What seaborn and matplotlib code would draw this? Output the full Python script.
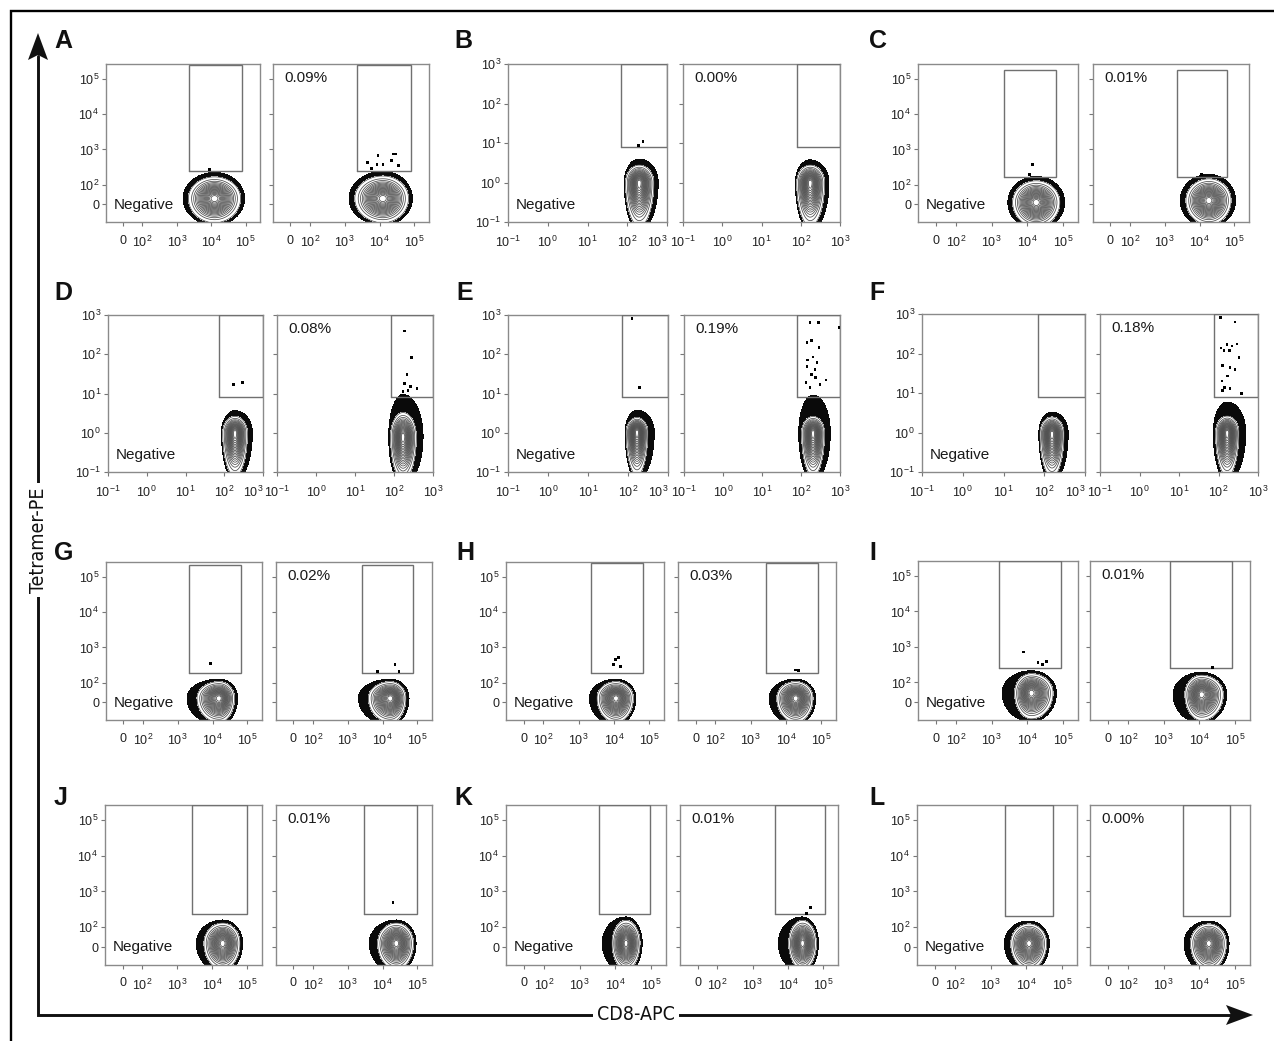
import numpy as np
import matplotlib
matplotlib.use("Agg")
import matplotlib.pyplot as plt
import seaborn as sns
from matplotlib.patches import Polygon

sns.set_style("white")
plt.rcParams["font.family"] = ["Liberation Sans", "DejaVu Sans"]
plt.rcParams["mathtext.fontset"] = "custom"
plt.rcParams["mathtext.rm"] = "Liberation Sans"
plt.rcParams["mathtext.it"] = "Liberation Sans:italic"
plt.rcParams["mathtext.bf"] = "Liberation Sans:bold"

# ---------------------------------------------------------------- data
panel_letters = list("ABCDEFGHIJKL")
percent_labels = ["0.09%", "0.00%", "0.01%", "0.08%", "0.19%", "0.18%",
                  "0.02%", "0.03%", "0.01%", "0.01%", "0.01%", "0.00%"]
axis_kind = ["biex", "log", "biex", "log", "log", "log",
             "biex", "biex", "biex", "biex", "biex", "biex"]

# tetramer+ gate per panel: CD8 low, CD8 high, tetramer low, tetramer high
gates_neg = [(2200, 80000, 240, 250000), (70, 1000, 8, 1000), (2300, 62000, 170, 180000),
             (72, 1000, 8, 1000), (71, 1000, 8, 1000), (71, 1000, 8, 1000),
             (2100, 67000, 190, 220000), (2200, 65000, 190, 240000), (1600, 85000, 260, 262144),
             (2700, 100000, 230, 262144), (3500, 95000, 230, 262144), (2500, 57000, 200, 262144)]
gates_pos = [(2200, 80000, 250, 250000), (80, 1000, 8, 1000), (2250, 63000, 170, 180000),
             (83, 1000, 8, 1000), (80, 1000, 8, 1000), (75, 1000, 8, 1000),
             (2500, 75000, 190, 220000), (2800, 80000, 190, 240000), (1500, 80000, 260, 262144),
             (3000, 100000, 230, 262144), (4400, 110000, 230, 262144), (3500, 74000, 200, 262144)]

# bulk CD8+ population: CD8 centre, tetramer centre,
# spread in decades (left, right, down, up), outlier rim (left, right, down, up)
pop_neg = [(12500, 30, .31, .31, .28, .25, 1.20, 1.15, 1.1, 1.20),
           (200, 1.0, .14, .15, .45, .18, 1.10, 1.30, 1.1, 1.35),
           (17800, 10, .27, .27, .28, .25, 1.20, 1.20, 1.1, 1.20),
           (190, 1.0, .13, .13, .45, .17, 1.10, 1.40, 1.1, 1.35),
           (168, 1.05, .11, .11, .45, .15, 1.10, 1.60, 1.1, 1.50),
           (155, 0.95, .12, .12, .45, .17, 1.10, 1.35, 1.1, 1.30),
           (15500, 22, .26, .18, .28, .19, 1.45, 1.20, 1.1, 1.15),
           (11500, 22, .22, .20, .28, .19, 1.40, 1.15, 1.1, 1.15),
           (12900, 48, .19, .25, .30, .22, 1.75, 1.15, 1.1, 1.15),
           (20000, 20, .22, .20, .30, .23, 1.40, 1.15, 1.1, 1.15),
           (20000, 20, .16, .16, .30, .26, 1.70, 1.15, 1.1, 1.15),
           (12000, 20, .21, .20, .30, .22, 1.35, 1.15, 1.1, 1.15)]
pop_pos = [(12500, 30, .33, .30, .28, .26, 1.20, 1.15, 1.1, 1.20),
           (174, 1.0, .14, .15, .45, .18, 1.10, 1.30, 1.1, 1.30),
           (18600, 20, .27, .26, .28, .25, 1.25, 1.20, 1.1, 1.20),
           (170, 0.8, .13, .14, .45, .25, 1.15, 1.50, 1.1, 1.75),
           (204, 1.0, .12, .12, .45, .17, 1.25, 1.50, 1.1, 2.30),
           (166, 1.0, .12, .12, .45, .17, 1.20, 1.60, 1.1, 1.85),
           (17000, 22, .26, .18, .28, .19, 1.45, 1.20, 1.1, 1.15),
           (19000, 22, .22, .20, .28, .19, 1.40, 1.15, 1.1, 1.15),
           (11500, 40, .19, .25, .30, .22, 1.70, 1.15, 1.1, 1.15),
           (25000, 20, .22, .20, .30, .23, 1.45, 1.15, 1.1, 1.15),
           (26000, 20, .16, .16, .30, .26, 1.75, 1.15, 1.1, 1.15),
           (18600, 20, .21, .20, .30, .22, 1.35, 1.15, 1.1, 1.15)]

# single events above the bulk population (CD8, tetramer)
events_neg = [
    [(9000, 270)],
    [(195, 8.7), (250, 10.7)],
    [(14300, 370), (11500, 195)],
    [(170, 17), (300, 19)],
    [(126, 830), (190, 14)],
    [],
    [(8700, 355)],
    [(11000, 460), (13500, 520), (9500, 330), (15000, 290)],
    [(7800, 725), (20000, 363), (27000, 320), (35000, 390)],
    [],
    [],
    [],
]
events_pos = [
    [(4470, 417), (5750, 288), (9100, 661), (12600, 372), (22400, 479),
     (25700, 741), (29500, 741), (35500, 347), (8500, 372)],
    [],
    [(11200, 195)],
    [(182, 390), (275, 83), (215, 31), (190, 18), (390, 13.5), (170, 11),
     (230, 12), (260, 15)],
    [(170, 630), (275, 630), (950, 470), (142, 195), (190, 220), (288, 150),
     (150, 71), (203, 85), (257, 63), (142, 48), (229, 40), (182, 30),
     (240, 25), (135, 19.5), (309, 17), (437, 22), (170, 14)],
    [(110, 830), (263, 630), (115, 138), (165, 166), (220, 155), (295, 174),
     (138, 117), (186, 117), (331, 78), (129, 49), (195, 44), (263, 39),
     (166, 27), (123, 20), (145, 14), (195, 13), (390, 9.7), (129, 11.5)],
    [(7000, 213), (22900, 330), (29500, 213)],
    [(19000, 230), (23000, 220)],
    [(24000, 270)],
    [(20000, 490)],
    [(43600, 355), (34000, 240)],
    [],
]

# ---------------------------------------------------------------- layout
W, H = 1274, 1041
fig = plt.figure(figsize=(W / 100, H / 100), dpi=100)

box_neg = [(106, 260, 64, 222), (508, 667, 64, 222), (918, 1078, 64, 222),
           (108, 263, 315, 472), (508, 668, 315, 472), (922, 1085, 314, 472),
           (106, 262, 562, 720), (506, 664, 562, 720), (918, 1078, 561, 720),
           (105, 262, 805, 965), (506, 666, 805, 965), (917, 1077, 805, 965)]
box_pos = [(273, 429, 64, 222), (683, 840, 64, 222), (1093, 1249, 64, 222),
           (277, 433, 315, 472), (684, 840, 315, 472), (1100, 1258, 314, 472),
           (276, 432, 562, 720), (678, 836, 562, 720), (1090, 1250, 561, 720),
           (276, 432, 805, 965), (680, 838, 805, 965), (1090, 1250, 805, 965)]
letter_xy = [(54, 29), (454, 29), (869, 29), (54, 281), (456, 281), (869, 281),
             (54, 541), (456, 541), (869, 541), (54, 786), (454, 786), (869, 786)]

# overlay in pixel coordinates for frame, arrows and letters
bg = fig.add_axes([0, 0, 1, 1], zorder=0)
bg.set_xlim(0, W)
bg.set_ylim(H, 0)
bg.axis("off")
bg.plot([11, 11, W + 5], [H + 5, 11, 11], color="black", lw=1.7,
        solid_joinstyle="miter")
bg.plot([38, 38, 1232], [56, 1015, 1015], color="#111111", lw=2.1,
        solid_joinstyle="miter")
bg.add_patch(Polygon([(38, 33), (28, 60), (38, 55), (48, 60)], closed=True,
                     color="#111111", lw=0))
bg.add_patch(Polygon([(1253, 1015), (1226, 1005), (1231, 1015), (1226, 1025)],
                     closed=True, color="#111111", lw=0))
axis_font = ["Liberation Sans Narrow", "DejaVu Sans"]
bg.text(38, 540, "Tetramer-PE", rotation=90, ha="center", va="center",
        fontsize=14, family=axis_font, fontstretch="condensed",
        color="#111111",
        bbox=dict(facecolor="white", edgecolor="none", pad=3))
bg.text(636, 1015, "CD8-APC", ha="center", va="center", fontsize=14,
        family=axis_font, fontstretch="condensed", color="#111111",
        bbox=dict(facecolor="white", edgecolor="none", pad=3))
for letter, (lx, ly) in zip(panel_letters, letter_xy):
    bg.text(lx, ly, letter, ha="left", va="top", fontsize=18,
            fontweight="bold", color="#111111")


def place(box):
    l, r, t, b = box
    return fig.add_axes([l / W, 1 - b / H, (r - l) / W, (b - t) / H], zorder=2)


def sup(n):
    return r"$\mathregular{10^{%d}}$" % n


def style_axis(ax, kind, side):
    if kind == "biex":
        ax.set_xscale("symlog", linthresh=100, linscale=0.5, base=10)
        ax.set_yscale("symlog", linthresh=100, linscale=0.5, base=10)
        lim = (-90, 262144)
        ticks_maj = [0, 1e2, 1e3, 1e4, 1e5]
        labels = ["0"] + [sup(k) for k in (2, 3, 4, 5)]
        minors = [-50, 50] + [m * 10.0 ** d for d in (2, 3, 4) for m in range(2, 10)] + [2e5]
    else:
        ax.set_xscale("log")
        ax.set_yscale("log")
        lim = (0.1, 1000)
        ticks_maj = [0.1, 1, 10, 100, 1000]
        labels = [sup(k) for k in (-1, 0, 1, 2, 3)]
        minors = [m * 10.0 ** d for d in (-1, 0, 1, 2) for m in range(2, 10)]
    ax.set_xlim(*lim)
    ax.set_ylim(*lim)
    for axis in (ax.xaxis, ax.yaxis):
        axis.set_major_locator(matplotlib.ticker.FixedLocator(ticks_maj))
        axis.set_major_formatter(matplotlib.ticker.FixedFormatter(labels))
        axis.set_minor_locator(matplotlib.ticker.FixedLocator(minors))
        axis.set_minor_formatter(matplotlib.ticker.NullFormatter())
    ax.tick_params(which="major", direction="out", length=3, width=0.8,
                   color="#777777", labelsize=9, labelcolor="#222222", pad=2)
    ax.tick_params(which="minor", direction="out", length=1.6, width=0.6,
                   color="#888888")
    ax.tick_params(axis="x", pad=6)
    ax.tick_params(left=True, bottom=True, labelleft=(side == "neg"))
    if kind == "log" and side == "neg":
        # last decade label sits flush with the panel edge
        ax.xaxis.get_major_ticks()[-1].label1.set_horizontalalignment("right")
    for s in ax.spines.values():
        s.set_color("#8a8a8a")
        s.set_linewidth(1.0)
    ax.set_facecolor("white")


R_OUT = np.sqrt(-2 * np.log(0.05))
RINGS = np.sqrt(-2 * np.log(1 - np.arange(0.05, 0.951, 0.05)))


def draw_population(ax, pop):
    cx, cy, sxl, sxr, syd, syu, fl, fr, fd, fu = pop
    tx, ty = ax.xaxis.get_transform(), ax.yaxis.get_transform()

    def fwd(t, v):
        return t.transform(np.asarray(v, float).reshape(-1, 1)).ravel()

    def inv(t, v):
        return t.inverted().transform(np.asarray(v, float).reshape(-1, 1)).ravel()

    xlo, xhi = ax.get_xlim()
    ylo, yhi = ax.get_ylim()
    gx = np.linspace(*fwd(tx, [xlo, xhi]), 500)
    gy = np.linspace(*fwd(ty, [ylo, yhi]), 500)
    decx = np.diff(fwd(tx, [1e3, 1e4]))[0]
    decy = np.diff(fwd(ty, [1e3, 1e4]))[0]
    u = (gx - fwd(tx, [cx])[0]) / decx
    v = (gy - fwd(ty, [cy])[0]) / decy
    U, V = np.meshgrid(u, v)
    sx = np.where(U < 0, sxl, sxr)
    sy = np.where(V < 0, syd, syu)
    r = np.hypot(U / sx, V / sy)
    rf = np.hypot(U / (sx * np.where(U < 0, fl, fr)), V / (sy * np.where(V < 0, fd, fu)))
    X, Y = np.meshgrid(inv(tx, gx), inv(ty, gy))
    ax.contourf(X, Y, rf, levels=[0, R_OUT], colors="#0a0a0a", zorder=1)
    ax.contourf(X, Y, r, levels=[0, R_OUT], colors="white", zorder=1.5)
    ax.contour(X, Y, r, levels=RINGS, colors="#4a4a4a", linewidths=0.55, zorder=2)


def draw_gate(ax, gate):
    x0, x1, y0, y1 = gate
    ax.plot([x0, x1, x1, x0, x0], [y0, y0, y1, y1, y0], color="#707070",
            lw=1.0, zorder=3, solid_joinstyle="miter")


def draw_events(ax, ev):
    if not ev:
        return
    xs, ys = zip(*ev)
    sns.scatterplot(x=list(xs), y=list(ys), ax=ax, s=4, marker="s",
                    color="black", edgecolor="none", linewidth=0,
                    legend=False, zorder=4)


for i in range(12):
    kind = axis_kind[i]
    for side, box, pop, gate, ev in (
            ("neg", box_neg[i], pop_neg[i], gates_neg[i], events_neg[i]),
            ("pos", box_pos[i], pop_pos[i], gates_pos[i], events_pos[i])):
        ax = place(box)
        style_axis(ax, kind, side)
        draw_population(ax, pop)
        draw_gate(ax, gate)
        draw_events(ax, ev)
        if side == "neg":
            ax.text(0.05, 0.11, "Negative", transform=ax.transAxes, ha="left",
                    va="center", fontsize=11, color="#1a1a1a", zorder=5)
        else:
            ax.text(0.07, 0.91, percent_labels[i], transform=ax.transAxes,
                    ha="left", va="center", fontsize=11, color="#1a1a1a", zorder=5)

fig.savefig("out.png", dpi=100, facecolor="white")
